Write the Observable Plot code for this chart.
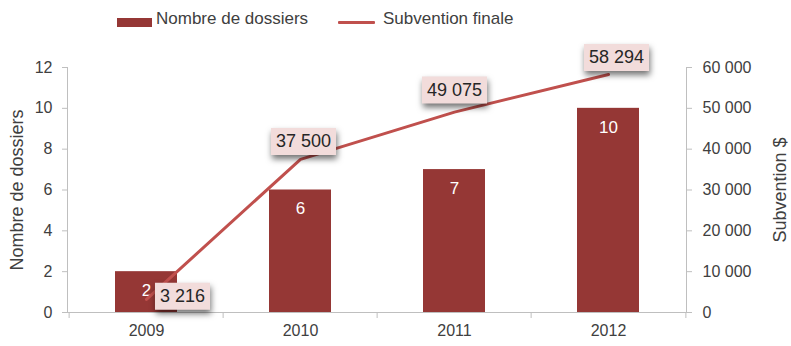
<!DOCTYPE html>
<html>
<head>
<meta charset="utf-8">
<script src="https://cdn.jsdelivr.net/npm/d3@7"></script>
<script src="https://cdn.jsdelivr.net/npm/@observablehq/plot@0.6"></script>
<style>
  body { margin: 0; background: #fff; font-family: "Liberation Sans", Arial, sans-serif; }
  #legend { position: relative; height: 36px; width: 791px; color: #404040; font-size: 17px; }
  #legend .sw { position: absolute; }
  #legend .lb { position: absolute; top: 9px; line-height: 20px; }
</style>
</head>
<body>
<div id="legend">
  <div class="sw" style="left:117px; top:18px; width:35px; height:9px; background:#953735"></div>
  <div class="lb" style="left:156px">Nombre de dossiers</div>
  <div class="sw" style="left:338px; top:21px; width:37px; height:3px; background:#c0504d; border-radius:1px"></div>
  <div class="lb" style="left:383px">Subvention finale</div>
</div>
<div id="chart"></div>
<script>
const years = ["2009", "2010", "2011", "2012"];
const dossiers = [2, 6, 7, 10];
const subvention = [3216, 37500, 49075, 58294];
const leftTicks = [0, 2, 4, 6, 8, 10, 12];
const rightTicks = [0, 10000, 20000, 30000, 40000, 50000, 60000];

const ratio = 5000; // subvention units per dossier unit (60 000 / 12)
const fmt = v => d3.format(",")(v).replace(/,/g, "\u00a0");
const rows = years.map((y, i) => ({year: y, n: dossiers[i], s: subvention[i]}));

const W = 791, H = 310, mL = 67, mR = 105, mT = 31, mB = 34;
const step = (W - mL - mR) / years.length;
const axisColor = "#bfbfbf";
const textColor = "#404040";

// label box offsets (layout only)
const offsets = [[36, -3], [3, -18], [0, -22], [8, -17]];
const fsBox = 18;
const boxW = s => { const t = fmt(s); const digits = t.replace(/\D/g, "").length; const spaces = t.length - digits; return digits * 0.556 * fsBox + spaces * 0.278 * fsBox + 10; };
const boxSymbol = (w, h) => ({ draw(ctx) { ctx.rect(-w / 2, -h / 2, w, h); } });
const shadow = (index, scales, values, dims, ctx, next) => { const g = next(index, scales, values, dims, ctx); g.style.filter = "drop-shadow(1px 4px 3px rgba(0,0,0,0.55))"; return g; };

const labelMarks = [];
rows.forEach((r, k) => {
  const [dx, dy] = offsets[k];
  labelMarks.push(Plot.dot(rows, {filter: (d, i) => i === k, x: "year", y: d => d.s / ratio, dx, dy, symbol: boxSymbol(boxW(r.s), 27), fill: "#f2dcdb", stroke: "none", render: shadow}));
  labelMarks.push(Plot.text(rows, {filter: (d, i) => i === k, x: "year", y: d => d.s / ratio, dx, dy, text: d => fmt(d.s), fill: "#262626", fontSize: fsBox}));
});

const plot = Plot.plot({
  width: W, height: H, marginLeft: mL, marginRight: mR, marginTop: mT, marginBottom: mB,
  style: {fontFamily: "Liberation Sans, Arial, sans-serif", color: textColor, background: "#fff"},
  x: {type: "band", domain: years, paddingInner: 0.6, paddingOuter: 0.3, axis: null},
  y: {domain: [0, 12], axis: null},
  marks: [
    Plot.barY(rows, {x: "year", y: "n", fill: "#953735"}),
    Plot.ruleY([0], {stroke: axisColor, strokeWidth: 1}),
    Plot.frame({anchor: "left", stroke: axisColor}),
    Plot.frame({anchor: "right", stroke: axisColor}),
    Plot.axisY(leftTicks, {anchor: "left", tickSize: 5, tickPadding: 10, stroke: axisColor, fill: textColor, fontSize: 16, label: null}),
    Plot.axisY(rightTicks.map(v => v / ratio), {anchor: "right", tickSize: 5, tickPadding: 11, stroke: axisColor, fill: textColor, fontSize: 16, tickFormat: d => fmt(d * ratio), label: null}),
    Plot.ruleX(years, {x: d => d, dx: -step / 2, y1: 0, y2: 0, insetBottom: -6, stroke: axisColor}),
    Plot.ruleX([years[years.length - 1]], {x: d => d, dx: step / 2, y1: 0, y2: 0, insetBottom: -6, stroke: axisColor}),
    Plot.axisX({tickSize: 0, tickPadding: 12, fontSize: 16, fill: textColor, label: null}),
    Plot.text(["Nombre de dossiers"], {frameAnchor: "left", textAnchor: "middle", lineAnchor: "middle", text: d => d, rotate: -90, dx: -50, dy: 0, fontSize: 18, fill: textColor}),
    Plot.text(["Subvention $"], {frameAnchor: "right", textAnchor: "middle", lineAnchor: "middle", text: d => d, rotate: -90, dx: 94, dy: 0, fontSize: 18, fill: textColor}),
    Plot.text(rows, {x: "year", y: "n", text: d => String(d.n), dy: 19, fill: "#ffffff", fontSize: 17}),
    Plot.line(rows, {x: "year", y: d => d.s / ratio, stroke: "#c0504d", strokeWidth: 3}),
    ...labelMarks
  ]
});
document.getElementById("chart").appendChild(plot);
</script>
</body>
</html>
